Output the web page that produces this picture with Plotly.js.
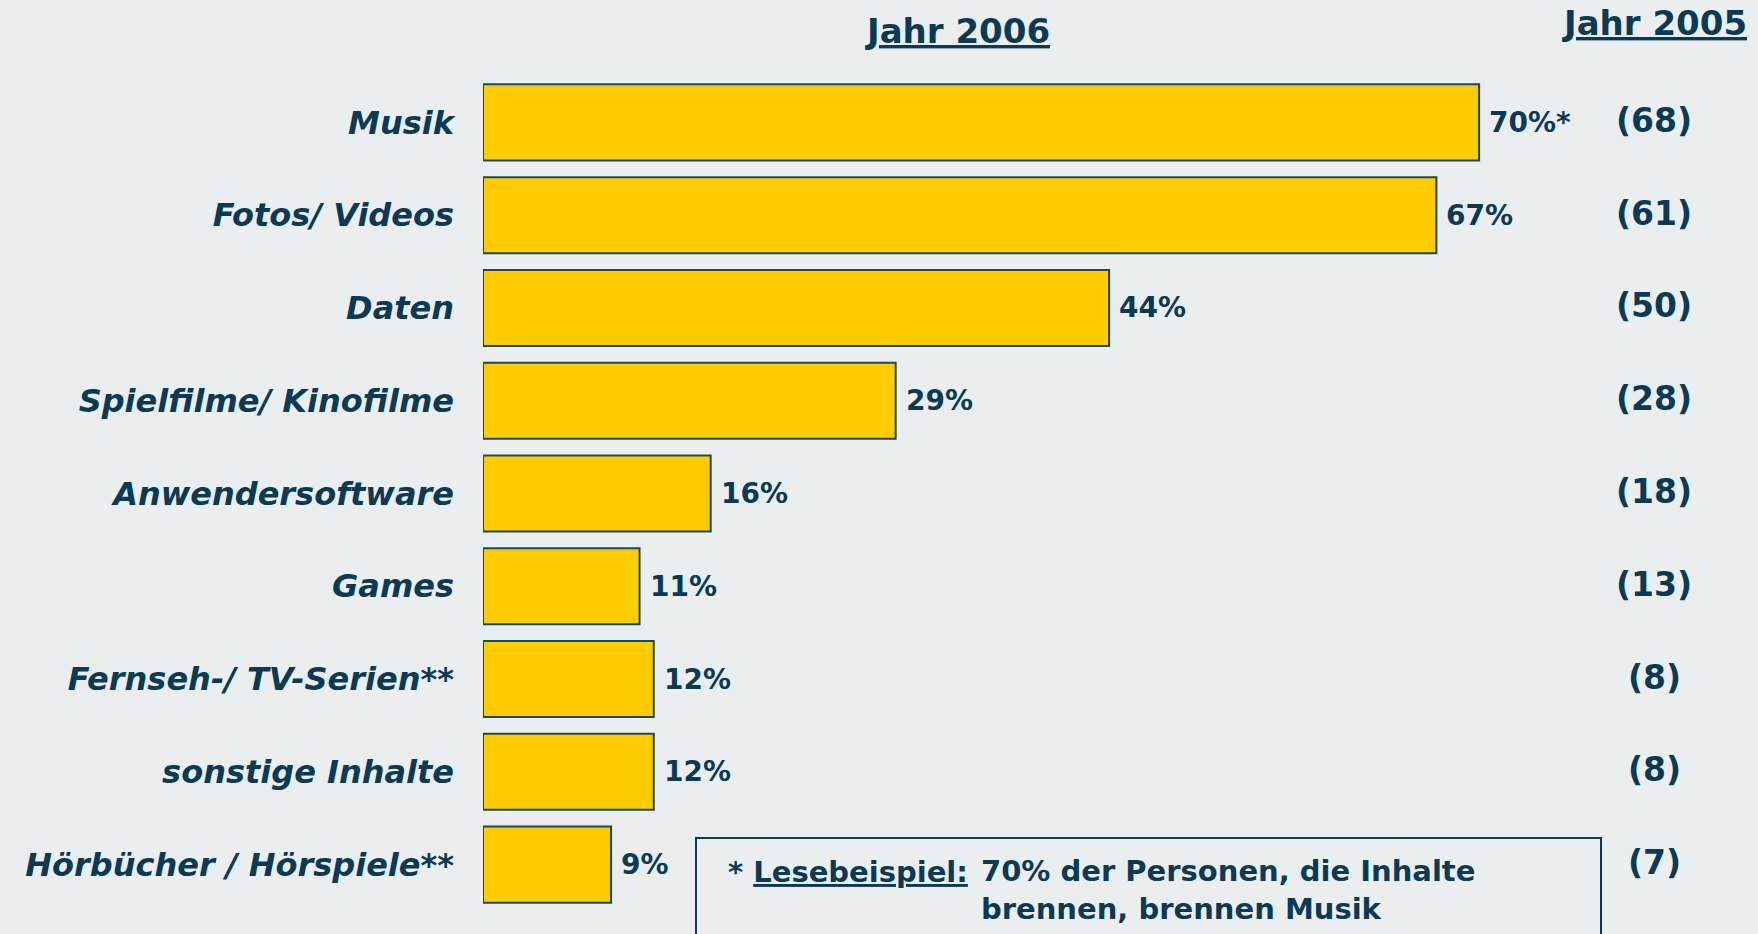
<!DOCTYPE html>
<html>
<head>
<meta charset="utf-8">
<script src="https://cdn.plot.ly/plotly-3.0.1.min.js"></script>
<style>html,body{margin:0;padding:0;background:#eaeeef;}</style>
</head>
<body>
<div id="chart" style="width:1758px;height:934px;"></div>
<script>
// ---- data ----
var categories = ["Musik", "Fotos/ Videos", "Daten", "Spielfilme/ Kinofilme", "Anwendersoftware", "Games", "Fernseh-/ TV-Serien**", "sonstige Inhalte", "Hörbücher / Hörspiele**"];
var values2006 = [70, 67, 44, 29, 16, 11, 12, 12, 9];
var labels2006 = ["70%*", "67%", "44%", "29%", "16%", "11%", "12%", "12%", "9%"];
var values2005 = [68, 61, 50, 28, 18, 13, 8, 8, 7];
var headers = ["Jahr 2006", "Jahr 2005"];
var noteLead = "* <u>Lesebeispiel:</u>";
var noteText = "70% der Personen, die Inhalte<br>brennen, brennen Musik";

// ---- style ----
var navy = "#0b3a55";
var font = "DejaVu Sans, Verdana, sans-serif";
var W = 1758, H = 934;
var L = 483, T = 76, B = 23;
var plotW = W - L, plotH = H - T - B;
function px(x) { return (x - L) / plotW; }
function py(y) { return (H - B - y) / plotH; }

var trace = {
  type: "bar",
  orientation: "h",
  x: values2006,
  y: categories,
  width: 0.82,
  marker: { color: "#ffcc00", line: { color: "#1a4860", width: 2 } },
  hoverinfo: "none"
};

var annotations = [];
categories.forEach(function (c, i) {
  annotations.push({
    x: values2006[i], y: c, xref: "x", yref: "y",
    text: labels2006[i], showarrow: false, xanchor: "left", xshift: 8,
    font: { family: font, size: 28, color: navy, weight: "bold" }
  });
  annotations.push({
    x: px(1654), y: c, xref: "paper", yref: "y",
    text: "(" + values2005[i] + ")", showarrow: false, xanchor: "center", yshift: 2,
    font: { family: font, size: 33, color: navy, weight: "bold" }
  });
});
annotations.push({
  x: px(957), y: py(31), xref: "paper", yref: "paper", text: "<u>" + headers[0] + "</u>",
  showarrow: false, xanchor: "center", yanchor: "middle",
  font: { family: font, size: 34, color: navy, weight: "bold" }
});
annotations.push({
  x: px(1654), y: py(23), xref: "paper", yref: "paper", text: "<u>" + headers[1] + "</u>",
  showarrow: false, xanchor: "center", yanchor: "middle",
  font: { family: font, size: 34, color: navy, weight: "bold" }
});
annotations.push({
  x: px(726), y: py(872), xref: "paper", yref: "paper", text: noteLead,
  showarrow: false, xanchor: "left", yanchor: "middle",
  font: { family: font, size: 29, color: navy, weight: "bold" }
});
annotations.push({
  x: px(979), y: py(890), xref: "paper", yref: "paper", text: noteText, align: "left",
  showarrow: false, xanchor: "left", yanchor: "middle",
  font: { family: font, size: 29, color: navy, weight: "bold" }
});

var layout = {
  width: W, height: H,
  margin: { l: L, r: 0, t: T, b: B, pad: 0 },
  paper_bgcolor: "#eaeeef",
  plot_bgcolor: "#eaeeef",
  showlegend: false,
  xaxis: { range: [0, plotW / 14.23], visible: false, fixedrange: true },
  yaxis: {
    type: "category", range: [8.5, -0.5],
    showgrid: false, zeroline: false, showline: false,
    ticks: "", ticklen: 0, ticklabelstandoff: 28,
    tickfont: { family: font, size: 32, color: navy, weight: "bold", style: "italic" },
    fixedrange: true
  },
  annotations: annotations,
  shapes: [{
    type: "rect", xref: "paper", yref: "paper",
    x0: px(696), x1: px(1601), y0: py(838), y1: py(990),
    line: { color: navy, width: 2 }, fillcolor: "rgba(0,0,0,0)"
  }]
};

Plotly.newPlot("chart", [trace], layout, { displayModeBar: false, staticPlot: true });
</script>
</body>
</html>
